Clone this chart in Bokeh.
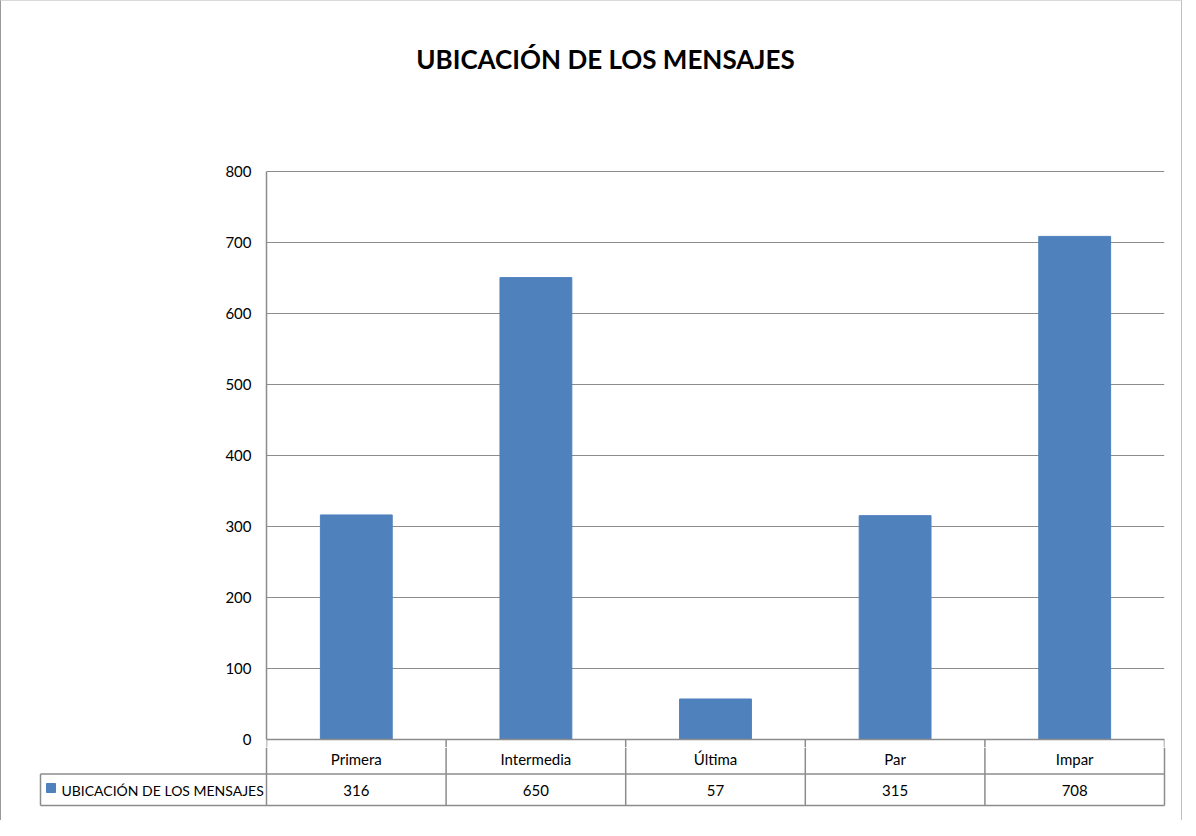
from bokeh.plotting import figure
from bokeh.models import Range1d, FactorRange, FixedTicker
from bokeh.layouts import column
from bokeh.embed import file_html
from bokeh.resources import INLINE
from bokeh.core.properties import value

# ---------------- data ----------------
title_text = "UBICACIÓN DE LOS MENSAJES"
series_name = "UBICACIÓN DE LOS MENSAJES"
categories = ["Primera", "Intermedia", "Última", "Par", "Impar"]
counts = [316, 650, 57, 315, 708]
y_ticks = [0, 100, 200, 300, 400, 500, 600, 700, 800]

# ---------------- style / layout ----------------
BAR = "#4F81BD"
LINE = "#8c8c8c"
FONT = "Lato"

W = 1180
H1 = 746          # chart part (page y 1..747)
H2 = 73           # data-table part (page y 747..820)
FRAME_L = 265
FRAME_R = 1163
ZERO_FY = 738     # figure y of value 0
TOP_FY = 169.5    # figure y of value 800
n = len(categories)
UNIT = (FRAME_R - FRAME_L) / n
PX = (ZERO_FY - TOP_FY) / y_ticks[-1]
y_start = -(H1 - ZERO_FY) / PX
y_end = y_ticks[-1] + TOP_FY / PX

p = figure(width=W, height=H1,
           x_range=FactorRange(*categories, range_padding=0, factor_padding=0),
           y_range=Range1d(y_start, y_end),
           x_axis_type=None,
           output_backend="svg", toolbar_location=None,
           min_border_left=FRAME_L, min_border_right=W - FRAME_R,
           min_border_top=0, min_border_bottom=0)
p.frame_align = False
p.outline_line_color = None
p.background_fill_color = "white"
p.border_fill_color = "white"

p.vbar(x=categories, top=counts, bottom=0, width=0.4, fill_color=BAR, line_color=BAR)

ax = p.yaxis[0]
ax.ticker = FixedTicker(ticks=y_ticks)
ax.bounds = (y_ticks[0], y_ticks[-1])
ax.axis_line_color = LINE
ax.axis_line_width = 1.5
ax.major_tick_in = 0
ax.major_tick_out = 0
ax.minor_tick_in = 0
ax.minor_tick_out = 0
ax.major_label_text_font = FONT
ax.major_label_text_font_size = "15px"
ax.major_label_text_color = "black"
ax.major_label_standoff = 15

p.xgrid.visible = False
p.ygrid.grid_line_color = LINE
p.ygrid.grid_line_width = 1.2

# table borders that start in the chart part (top of category row)
vx_top = list(range(n + 1))
p.segment(x0=vx_top, y0=[y_start] * (n + 1), x1=vx_top, y1=[0] * (n + 1),
          line_color=LINE, line_width=1.5)
p.segment(x0=[0], y0=[0], x1=[n], y1=[0], line_color=LINE, line_width=1.5)

# title
title_x = (604 - FRAME_L) / UNIT
title_y = (ZERO_FY - 57) / PX
p.text(x=[title_x], y=[title_y], text=[title_text], text_font=value(FONT),
       text_font_style="bold", text_font_size="26px", text_color="black",
       text_align="center", text_baseline="middle")

# ---------------- data table ----------------
t = figure(width=W, height=H2,
           x_range=Range1d(-FRAME_L / UNIT, (W - FRAME_L) / UNIT),
           y_range=Range1d(H2, 0),
           x_axis_type=None, y_axis_type=None,
           output_backend="svg", toolbar_location=None,
           min_border=0)
t.frame_align = False
t.outline_line_color = None
t.background_fill_color = "white"
t.border_fill_color = "white"

ROW_MID, ROW_BOT = 26.5, 58
leg_l = (39 - FRAME_L) / UNIT

hy = [ROW_MID, ROW_BOT]
t.segment(x0=[leg_l, leg_l], y0=hy, x1=[n, n], y1=hy, line_color=LINE, line_width=1.5)

vx = list(range(n + 1)) + [leg_l]
vy0 = [0] * (n + 1) + [ROW_MID]
vy1 = [ROW_BOT] * (n + 2)
t.segment(x0=vx, y0=vy0, x1=vx, y1=vy1, line_color=LINE, line_width=1.5)

xc = [i + 0.5 for i in range(n)]
t.text(x=xc, y=[11.5] * n, text=categories, text_font=value(FONT),
       text_font_size="15px", text_color="black",
       text_align="center", text_baseline="middle")
t.text(x=xc, y=[43] * n, text=[str(v) for v in counts], text_font=value(FONT),
       text_font_size="15px", text_color="black",
       text_align="center", text_baseline="middle")

key_x = (49.5 - FRAME_L) / UNIT
t.scatter(x=[key_x], y=[40.5], marker="square", size=9,
          fill_color=BAR, line_color=BAR)
t.text(x=[(60 - FRAME_L) / UNIT], y=[43], text=[series_name],
       text_font=value(FONT), text_font_size="14px", text_color="black",
       text_align="left", text_baseline="middle")

layout = column(p, t, spacing=0,
                styles={"border-top": "1px solid #d9d9d9",
                        "border-left": "1px solid #999999",
                        "border-right": "1px solid #bfbfbf"})

with open("out.html", "w") as f:
    f.write(file_html(layout, INLINE))
